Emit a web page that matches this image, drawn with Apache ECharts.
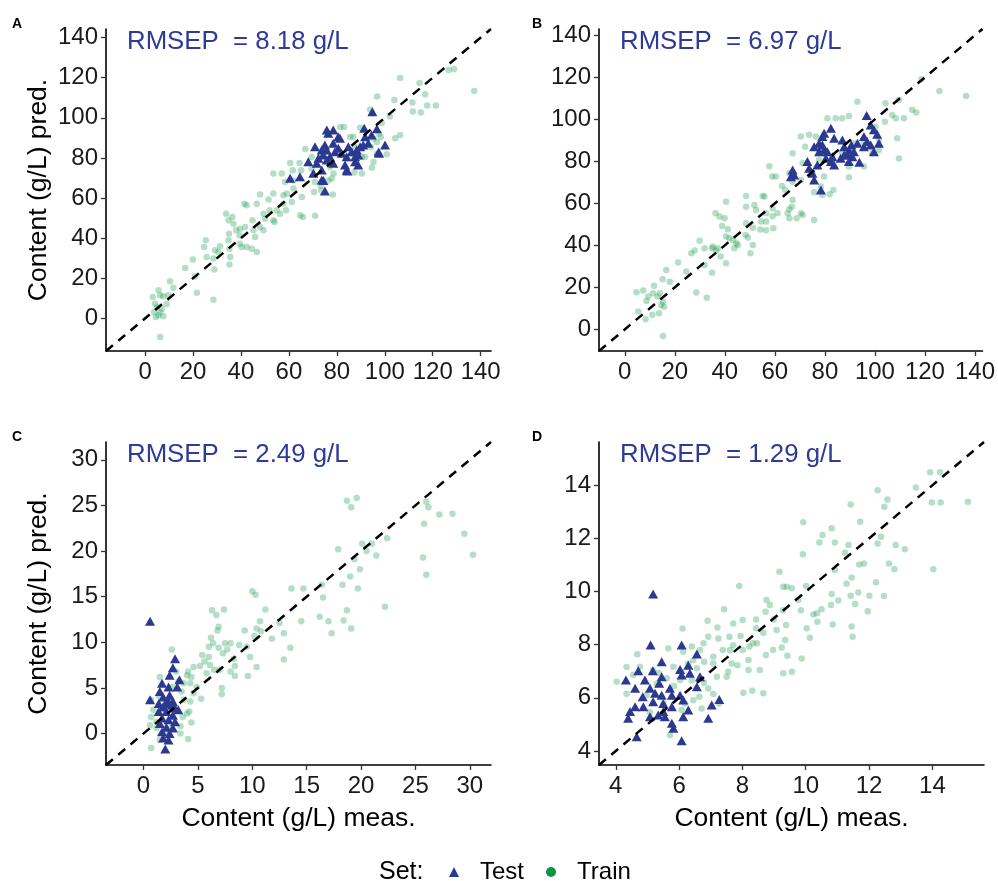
<!DOCTYPE html>
<html><head><meta charset="utf-8">
<script src="https://cdn.jsdelivr.net/npm/echarts@6/dist/echarts.min.js"></script>
<style>html,body{margin:0;padding:0;background:#fff}#c{width:998px;height:881px}</style>
</head><body><div id="c"></div>
<script>
// ---------- data (measured, predicted) ----------
const trainA = [[106.4,119.9],[114.5,117.4],[116.8,111.7],[121.3,106.1],[117.7,106.1],[111.5,107.7],[111.7,103.1],[115,102.7],[126.6,123.9],[128.9,124.4],[137.3,113.4],[96.8,110.6],[104,108.9],[102.1,100.7],[106.4,91.4],[104.3,89.8],[100.8,81.8],[98.7,97.4],[94.6,75.1],[97.6,92.1],[98.3,90.4],[93.9,104.2],[89.7,95.1],[81.4,95.4],[83,95.4],[86.9,90.6],[94.2,85.5],[91.8,80.5],[90.4,72.2],[87.3,72.7],[78.6,72.2],[78.3,61.7],[77.9,69.7],[73.5,63.8],[70.5,63],[70.9,51.2],[66.8,84.5],[69.5,80.5],[73,80.5],[65.1,73.8],[64.4,77.5],[60.5,77.5],[61.6,73.8],[61.9,68.8],[58.4,68],[61.9,64.7],[65.4,60.5],[59.1,62.2],[57.7,57.2],[61.2,58],[58.8,53.9],[56.3,52.2],[64.7,51.4],[65.8,50.5],[57.7,61.4],[53.5,72.2],[57,72.2],[53.5,62.2],[51.5,59.2],[51.9,53.9],[54.9,53.9],[48,61.7],[46.6,57.2],[42.4,56.4],[41.4,57.2],[53.5,48.9],[54,48],[50.1,49.7],[49.4,52.2],[48,45.6],[49.4,43.9],[44.8,48.9],[45.2,43.9],[41.7,45.6],[39.6,44.7],[45.9,40.6],[42.4,35.6],[44.5,34.7],[46.6,33.1],[39.4,41.4],[39.6,37.2],[40.3,35.6],[36.9,47.2],[34.8,48.9],[33.8,52.2],[36.4,50.5],[38,43.9],[35,42.2],[34.8,38.9],[35.2,34.7],[35.5,30.6],[35.2,26.8],[31.3,35.9],[30.6,33.1],[29.2,33.9],[28.5,29.8],[25.3,38.9],[24.6,35.6],[25.7,30.6],[28.9,24.3],[28.5,9.3],[19.9,29.3],[20.9,20.9],[21.6,12.8],[16.7,25.1],[11.8,15.3],[10.4,18.5],[9.7,11.5],[9,7],[7.6,11],[5.6,14],[6.3,11.5],[3.2,10.6],[4.2,7.3],[4.9,5.7],[3.8,3.2],[5.6,1.5],[7.6,1],[6.3,3.2],[4.5,0.7],[7,4.8],[6.3,-9.3],[90.4,80.5],[87.6,85.5],[85.5,90.4],[84.1,79.6],[86.2,82.1],[91.1,85.5],[95.3,89.6],[96.7,87.9],[96.7,82.1],[95.3,78],[75.1,83.8],[77.2,75.5],[76.5,68.8],[69.5,74.6],[70.9,68],[73.3,66.3]];
const testA = [[94.8,103],[75.8,93.9],[78.5,93.9],[76.4,92.3],[91.4,94.8],[91.8,90.6],[80.6,90.6],[94.5,91.4],[93.1,87.3],[100.1,86.4],[97.6,82.3],[70.9,85.6],[75,86.4],[75.8,83.9],[73.7,83.9],[78.5,87.3],[80.6,84.8],[84.8,85.6],[86.2,83.1],[88.3,83.9],[89.7,85.6],[91,86.4],[88.9,81.4],[87.6,80.6],[84.1,80.6],[82,82.3],[77.1,80.6],[74.3,81.4],[72.3,79.8],[68.1,78.1],[71.6,77.3],[75.8,79],[78.5,77.3],[83.4,76.5],[87.6,78.1],[88.9,76.5],[84.1,74],[73.7,74],[70.2,72.3],[64.6,70.6],[60.5,69.8],[73.7,69],[75,63.5],[79.2,83.1],[81.3,89.8],[74.4,68.8],[84.4,73.5],[96.7,94.6],[97.4,83]];
const trainB = [[4.7,17.7],[7.4,18.5],[5.4,8.5],[8.3,4.8],[8.7,13.5],[9.4,15.6],[11.3,17.2],[11.7,20.8],[11,6.9],[13.1,15.6],[14,17.2],[15.3,13.2],[14.6,11.6],[13.7,7.7],[15.7,10.8],[15.1,23.8],[15.3,-3.2],[16.6,28.3],[18,22.7],[21.3,31.8],[26.6,36.2],[27.9,37.5],[29.9,42.2],[24.6,27.5],[28.6,17.5],[32.8,15.1],[31.9,38.6],[31.9,30.7],[34.9,38.6],[35.2,39.4],[36.3,55.3],[37.2,38.6],[36.5,37.5],[37.9,53.7],[38.9,49.2],[38.3,34.7],[34.9,27],[39.9,52.9],[40.5,60.7],[40.5,44.2],[41.2,47.7],[40.5,31.5],[41.8,43.4],[43.2,42.6],[43.8,38.6],[45.2,40.2],[44.6,41],[48.5,63.5],[48.5,58.4],[48.5,50.5],[48.3,44.9],[49.2,43.7],[51.2,48.4],[51.2,40.2],[50.2,36.2],[51.8,59.2],[52.5,56.8],[55.1,63.5],[55.8,63.2],[56.5,55.3],[54.5,51.3],[56.5,51.3],[54.2,47.6],[56.5,47.2],[57.8,77.6],[58.9,72.8],[60.4,72.8],[59.1,57.5],[59.1,53.9],[59.4,48.1],[61.1,55.3],[62.8,68.3],[64.2,66.4],[65.1,55.3],[65.8,57.2],[65.8,52.9],[67.1,61.6],[66.8,58.4],[67.1,70.3],[65.8,74.3],[67.1,83.8],[68.7,52.9],[70.4,55.3],[71.1,54.5],[70.4,71.1],[70.4,91.8],[72.1,87],[71.1,79.1],[75,74.3],[75.7,65.3],[75.7,52.1],[76.4,91.8],[77.7,80.7],[78.4,68],[79,64],[79.7,72.8],[81,100.5],[81.9,64.3],[83.4,66.4],[84.3,100.5],[86.9,100.5],[89.6,101.6],[93,108.4],[89.6,72.4],[86.9,83.8],[89.6,77.5],[95.6,77.5],[95.6,88.6],[98.9,83.8],[101.6,85.4],[101.6,90.2],[104.2,107.6],[104,98.9],[106.9,102.1],[108.3,100.5],[111.6,100.5],[109.6,109.2],[108.9,91],[109.6,81.4],[114.9,104.5],[116.5,103.2],[118.6,119.1],[125.8,113.5],[136.5,111.1],[100.2,96.5],[91.6,88.6],[83,82.2],[77.7,85.4],[73.7,92.6]];
const testB = [[96.7,101.8],[98.3,97.3],[99.6,95],[100.9,92.9],[101.6,88.6],[95.6,91.8],[96.9,89.4],[95.6,87],[98.3,87.8],[99.6,84.6],[93,88.6],[90.6,87.8],[89.6,85.4],[89,83],[91,82.2],[91.6,84.6],[93.8,79.6],[89.6,79.9],[87.7,87],[87.7,83],[86.3,81.5],[82.4,95.8],[79.7,93.4],[79,91.8],[83.7,91],[77.7,88.6],[79,87.8],[75.7,87],[79.7,85.4],[81,84.6],[77.7,84.6],[83,82.2],[82.4,79.9],[83.7,78.3],[73,79.9],[73.7,76.7],[75,74.3],[75.7,71.1],[78.4,66.4],[67.1,75.9],[67.7,73.5],[66.4,72.7],[77,78.3],[80.4,81.5],[87,90.2]];
const trainC = [[19.6,25.8],[19.1,24.8],[18.7,25.5],[26,25.4],[26.2,24.8],[27.2,24],[28.4,24.1],[25.8,23],[29.5,21.9],[30.3,19.6],[25.7,19.3],[26,17.4],[22.4,21.4],[20.1,20.8],[21,20.8],[20.5,20],[21.4,19.5],[17.9,20.2],[19.4,19.1],[19.9,18],[19,17.2],[19.7,15.9],[18.3,16.3],[16.4,16.3],[16.5,14.9],[18.7,13.5],[18.4,12.4],[19.1,11.5],[22.2,13.9],[17.3,11],[17,12.3],[16.2,12.8],[14.5,12.3],[13.6,15.9],[14.7,15.9],[13.5,9.4],[12.9,11],[12.9,8.1],[12.5,12.1],[11.8,10.4],[11.2,13.6],[10.7,12.3],[10.4,11.5],[10.2,10.7],[10.8,11.2],[10,15.6],[10.3,15.2],[9.8,8.4],[10.4,7.3],[9.6,6.3],[9.5,9.5],[9.3,11.3],[8.8,9.7],[8.4,7.4],[8.4,6.3],[8,6.8],[7.5,9.9],[7.4,13.6],[7.3,8.8],[6.9,9.4],[6.4,9.9],[6.3,13.5],[6.7,13],[6.9,11.7],[6.8,11.3],[6,9.5],[6,8.4],[5.4,8.6],[5.6,7.9],[6.1,7.5],[7,7],[6.5,7],[7.2,5],[7.2,4.3],[5.3,3.8],[5.2,7.4],[4.6,7.3],[4.1,6.8],[4,6.4],[4.4,6.2],[4.3,5.5],[3.7,5.5],[3.5,4.6],[3.7,3.7],[4.3,3.5],[4.2,2.4],[4,2.2],[4.4,1.2],[4.1,-0.6],[3.6,1.8],[3.4,0.8],[2.6,9.2],[3,6.8],[3.2,5.7],[2.6,5.1],[1.5,6.2],[1.4,4.1],[0.7,3.7],[0.9,2.6],[0.7,1.8],[0.6,0.9],[1.2,1.3],[0.7,-1.6],[1.2,0.6],[1.5,-0.7],[3.4,0],[2.1,0],[2.6,0.7],[4.6,4.4],[4.9,5.1],[8,9.9],[7.7,9.2],[8.3,8.2],[6.2,10.5],[5.8,6.6]];
const testC = [[0.6,12.3],[2.9,8.2],[2.7,7.2],[2.4,6.4],[3.3,5.9],[1.7,5.5],[3.1,5.1],[2.3,5.1],[0.6,3.7],[1.5,4.6],[1.8,4],[2.4,4.2],[2.3,3.5],[1.4,3.3],[2.7,3.5],[1.8,2.9],[2.9,2.8],[2.1,2.4],[1.4,2.4],[2.7,2],[1.7,1.7],[2.3,1.5],[2.9,1.3],[1.5,1.1],[2.1,0.7],[2.7,0.6],[1.7,0.2],[2.4,0],[1.8,-0.5],[2.3,-0.7],[2,-1.7],[3.2,2.6],[2,3.3],[2.6,3.1]];
const trainD = [[13.93,14.49],[14.24,14.49],[13.98,13.35],[14.26,13.35],[15.12,13.38],[14.03,10.84],[13.48,13.92],[12.27,13.81],[12.58,13.47],[12.48,13.19],[11.42,13.28],[11.72,12.63],[12.38,12.06],[12.27,11.81],[12.84,11.75],[13.13,11.59],[12.63,11.06],[12.8,10.84],[12.22,10.35],[12.01,9.84],[11.96,9.26],[12.47,9.83],[11.69,11.02],[11.84,11.06],[11.35,11.75],[11.24,11.46],[11.29,10.29],[11.45,10.53],[11.66,9.96],[11.42,9.84],[11.56,9.53],[11.45,8.68],[11.48,8.3],[11.03,9.66],[10.82,9.91],[10.8,9.49],[10.85,8.76],[10.92,10.81],[10.92,11.85],[10.82,12.38],[10.53,12.13],[10.43,11.85],[10.5,9.33],[10.35,9.18],[10.24,9.14],[10.37,8.86],[10.13,8.26],[10.03,8.62],[10.01,10.21],[9.91,11.4],[9.92,12.61],[9.85,9.3],[9.77,9.68],[9.87,7.48],[9.56,10.12],[9.4,10.18],[9.29,10.18],[9.38,8.74],[9.35,8.18],[9.28,9.3],[9.17,10.75],[9.29,6.92],[9.56,6.98],[9.42,7.58],[9.24,7.89],[9.08,8.55],[8.99,8.95],[8.97,7.8],[8.87,9.49],[8.76,9.68],[8.73,9.24],[8.74,7.61],[8.66,8.45],[8.43,8.95],[8.43,8.62],[8.46,8.05],[8.33,8.05],[8.22,7.93],[8.55,7.05],[8.66,6.17],[8.31,6.27],[8.03,6.19],[8.19,7.05],[8.19,7.42],[8.01,7.8],[8.01,8.93],[7.9,10.21],[7.94,8.33],[7.71,8.8],[7.71,7.98],[7.66,7.29],[7.84,7.23],[7.61,7.8],[7.59,8.3],[7.42,9.33],[7.38,7.8],[7.55,6.98],[7.5,6.79],[7.19,6.79],[7.24,8.23],[7.21,8.65],[6.92,8.3],[6.9,8.9],[7.08,7.55],[7.08,7.29],[7.08,6.14],[7.26,5.79],[6.77,8.05],[6.79,7.36],[6.79,6.57],[6.92,6.35],[6.71,5.6],[6.66,7.8],[6.56,7.11],[6.45,7.42],[6.4,7.93],[6.4,6.65],[6.29,7.29],[6.13,7.73],[6.11,8.61],[6.08,6.98],[6.03,6.67],[5.84,6.44],[5.82,7.17],[5.66,7.86],[5.61,6.74],[5.5,5.79],[5.71,4.6],[5.35,6.93],[5.29,6.54],[5.18,7.04],[5.08,5.46],[4.97,6.1],[4.76,7.17],[4.68,7.64],[4.55,6.87],[4.34,7.16],[4.34,6.15],[4.03,6.6],[6.19,5.79],[6.45,5.91],[6.08,5.54],[6.64,6.04]];
const testD = [[5.18,9.91],[5.1,7.99],[6.08,7.99],[6.56,7.65],[6.29,7.23],[5.45,7.36],[6.03,7.07],[6.34,6.92],[6.66,6.79],[6.08,6.86],[4.71,7.02],[5.17,7.02],[5.45,6.79],[4.32,6.67],[4.92,6.67],[5.37,6.55],[4.61,6.36],[5.08,6.36],[5.71,6.36],[6.56,6.42],[4.85,6.04],[5.24,6.17],[5.45,6.1],[5.77,6.1],[6.03,6.1],[6.13,5.92],[5.18,5.85],[5.5,5.79],[5.77,5.66],[4.87,5.66],[4.61,5.66],[4.45,5.48],[4.39,5.23],[5.08,5.29],[5.34,5.35],[5.55,5.29],[6.13,5.29],[6.29,5.54],[5.5,5.48],[5.77,5.04],[5.82,4.85],[4.66,4.53],[6.08,4.38],[7.03,5.73],[7.27,5.94],[6.92,5.23]];

// axis limits and ticks per panel
const limA = [-16.3, 144.3], limB = [-10.3, 143], limC = [-3.45, 31.95], limD = [3.47, 15.63];
const ticksAB = [0, 20, 40, 60, 80, 100, 120, 140];
const ticksC = [0, 5, 10, 15, 20, 25, 30];
const ticksD = [4, 6, 8, 10, 12, 14];
const rmsep = ['RMSEP  = 8.18 g/L', 'RMSEP  = 6.97 g/L', 'RMSEP  = 2.49 g/L', 'RMSEP  = 1.29 g/L'];
const panelLetters = ['A', 'B', 'C', 'D'];
const xTitle = 'Content (g/L) meas.';
const yTitle = 'Content (g/L) pred.';

// ---------- chart ----------
const FONT = 'Liberation Sans, Arial, sans-serif';
const COL_TEST = '#2B3990';
const COL_TRAIN = '#1A9A4E';
const grids = [
  {left: 106, top: 29, width: 385, height: 322},
  {left: 599, top: 29, width: 385, height: 322},
  {left: 106, top: 442, width: 385, height: 323},
  {left: 599, top: 442, width: 385, height: 323}
];
const lims = [limA, limB, limC, limD];
const ticks = [ticksAB, ticksAB, ticksC, ticksD];
const trains = [trainA, trainB, trainC, trainD];
const tests = [testA, testB, testC, testD];

function axisCommon(lim, tk) {
  return {
    type: 'value', min: lim[0], max: lim[1],
    splitLine: {show: false},
    axisLine: {show: true, onZero: false, lineStyle: {color: '#000', width: 1.6}},
    axisTick: {show: true, customValues: tk, length: 5, lineStyle: {color: '#333', width: 1.3}},
    axisLabel: {customValues: tk, color: '#1a1a1a', fontSize: 24, fontFamily: FONT},
    nameTextStyle: {color: '#000', fontSize: 26.5, fontFamily: FONT}
  };
}
const xAxes = [], yAxes = [], series = [], titles = [];
for (let i = 0; i < 4; i++) {
  const xa = axisCommon(lims[i], ticks[i]);
  xa.gridIndex = i; xa.axisLabel.margin = 9;
  if (i >= 2) { xa.name = xTitle; xa.nameLocation = 'middle'; xa.nameGap = 40; }
  const ya = axisCommon(lims[i], ticks[i]);
  ya.gridIndex = i; ya.axisLabel.margin = 8;
  if (i % 2 === 0) { ya.name = yTitle; ya.nameLocation = 'middle'; ya.nameGap = 54; }
  xAxes.push(xa); yAxes.push(ya);
  series.push({
    name: 'Train', type: 'scatter', xAxisIndex: i, yAxisIndex: i,
    data: trains[i], symbol: 'circle', symbolSize: 6.5,
    itemStyle: {color: COL_TRAIN, opacity: 0.33}, z: 2, silent: true
  });
  series.push({
    name: 'Test', type: 'scatter', xAxisIndex: i, yAxisIndex: i,
    data: tests[i], symbol: 'triangle', symbolSize: [10, 9],
    itemStyle: {color: COL_TEST, opacity: 1}, z: 3, silent: true
  });
  series.push({
    name: 'identity', type: 'line', xAxisIndex: i, yAxisIndex: i,
    data: [[lims[i][0], lims[i][0]], [lims[i][1], lims[i][1]]],
    symbol: 'none', lineStyle: {color: '#000', width: 2.5, type: [9, 7]}, z: 4, silent: true
  });
  const g = grids[i];
  titles.push({
    text: rmsep[i], left: g.left + 21, top: g.top, padding: 0,
    textStyle: {color: '#2E3A98', fontSize: 25.8, fontWeight: 'normal', fontFamily: FONT}
  });
  titles.push({
    text: panelLetters[i], left: g.left - 94 + (i % 2 === 1 ? 27 : 0), top: g.top - 12, padding: 0,
    textStyle: {color: '#000', fontSize: 14, fontWeight: 'bold', fontFamily: FONT}
  });
}

const chart = echarts.init(document.getElementById('c'), null, {renderer: 'canvas'});
chart.setOption({
  backgroundColor: '#fff',
  animation: false,
  title: titles,
  grid: grids,
  xAxis: xAxes,
  yAxis: yAxes,
  series: series,
  legend: {
    left: 444, top: 855, itemWidth: 10, itemHeight: 10, itemGap: 22,
    selectedMode: false,
    data: [
      {name: 'Test', icon: 'triangle', itemStyle: {color: COL_TEST, opacity: 1}},
      {name: 'Train', icon: 'circle', itemStyle: {color: '#0E9447', opacity: 1}}
    ],
    textStyle: {color: '#000', fontSize: 24, fontFamily: FONT, padding: [0, 0, 0, 16]}
  },
  graphic: [{
    type: 'text', left: 379, top: 860,
    style: {text: 'Set:', fontSize: 25, fontFamily: FONT, fill: '#000'}
  }]
});
</script></body></html>
